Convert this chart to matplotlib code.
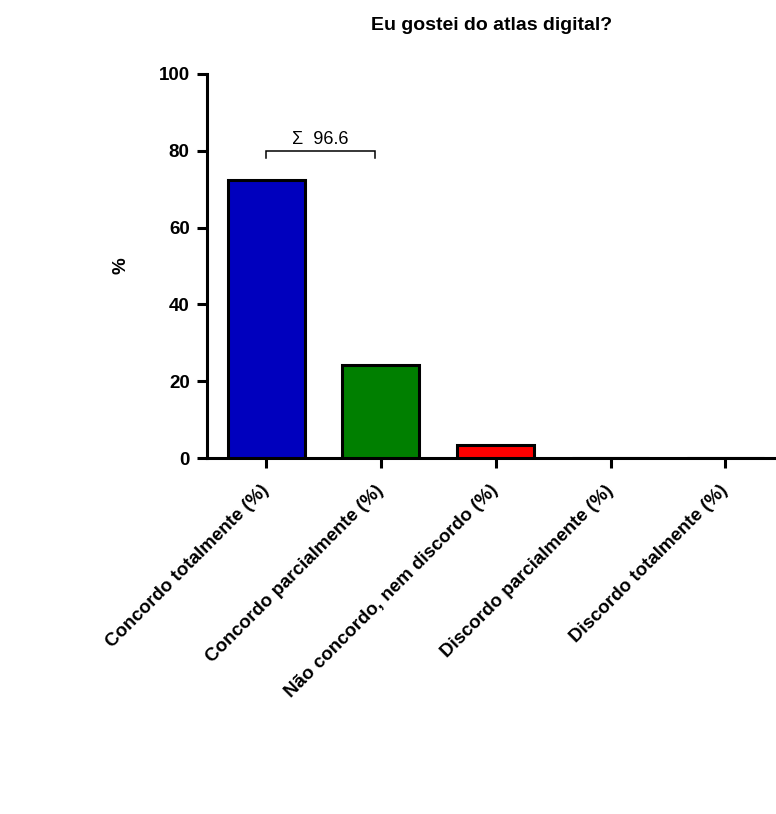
import matplotlib
matplotlib.use("Agg")
import matplotlib.pyplot as plt

# survey answers and their share of respondents
categories = ["Concordo totalmente (%)", "Concordo parcialmente (%)",
              "Não concordo, nem discordo (%)", "Discordo parcialmente (%)",
              "Discordo totalmente (%)"]
values = [72.4, 24.2, 3.4, 0.0, 0.0]
colors = ["#0000BE", "#007F00", "#FF0000", "#FFFFFF", "#FFFFFF"]
yticks = [0, 20, 40, 60, 80, 100]
# sum of the two "agree" answers shown over the bracket
agree_sum = round(values[0] + values[1], 1)

plt.rcParams["font.family"] = ["Liberation Sans", "DejaVu Sans"]

fig = plt.figure(figsize=(7.76, 8.14), dpi=100)
ax = fig.add_axes([0.2668, 0.4373, 0.7332, 0.4718])

x = list(range(len(categories)))
ax.bar(x, values, width=0.67, color=colors, edgecolor="black", linewidth=2.2, zorder=3)

ax.set_xlim(-0.514, 4.44)
ax.set_ylim(0, 100)
ax.set_yticks(yticks)
ax.set_xticks(x)
ax.set_xticklabels(categories, rotation=45, ha="right", va="center",
                   rotation_mode="anchor", fontsize=13.5, fontweight="bold")
for lab in ax.get_yticklabels():
    lab.set_fontsize(13.5)
    lab.set_fontweight("bold")

ax.spines["top"].set_visible(False)
ax.spines["right"].set_visible(False)
ax.spines["left"].set_linewidth(2.2)
ax.spines["bottom"].set_linewidth(2.2)
ax.tick_params(axis="both", width=2.2, length=7.5, color="black")
ax.tick_params(axis="x", pad=14)
ax.tick_params(axis="y", pad=5)

ax.set_ylabel("%", fontsize=13.5, fontweight="bold", labelpad=21)
ax.set_title("Eu gostei do atlas digital?", fontsize=14, fontweight="bold", pad=32)

# bracket over the first two bars with the summed percentage
ax.plot([0, 0, 0.95, 0.95], [78.1, 80, 80, 78.1], color="black", linewidth=1.1,
        solid_joinstyle="miter", clip_on=False)
ax.text(0.475, 80.8, "\u03a3  " + f"{agree_sum:.1f}", ha="center", va="bottom", fontsize=13)

fig.savefig("out.png", dpi=100)
